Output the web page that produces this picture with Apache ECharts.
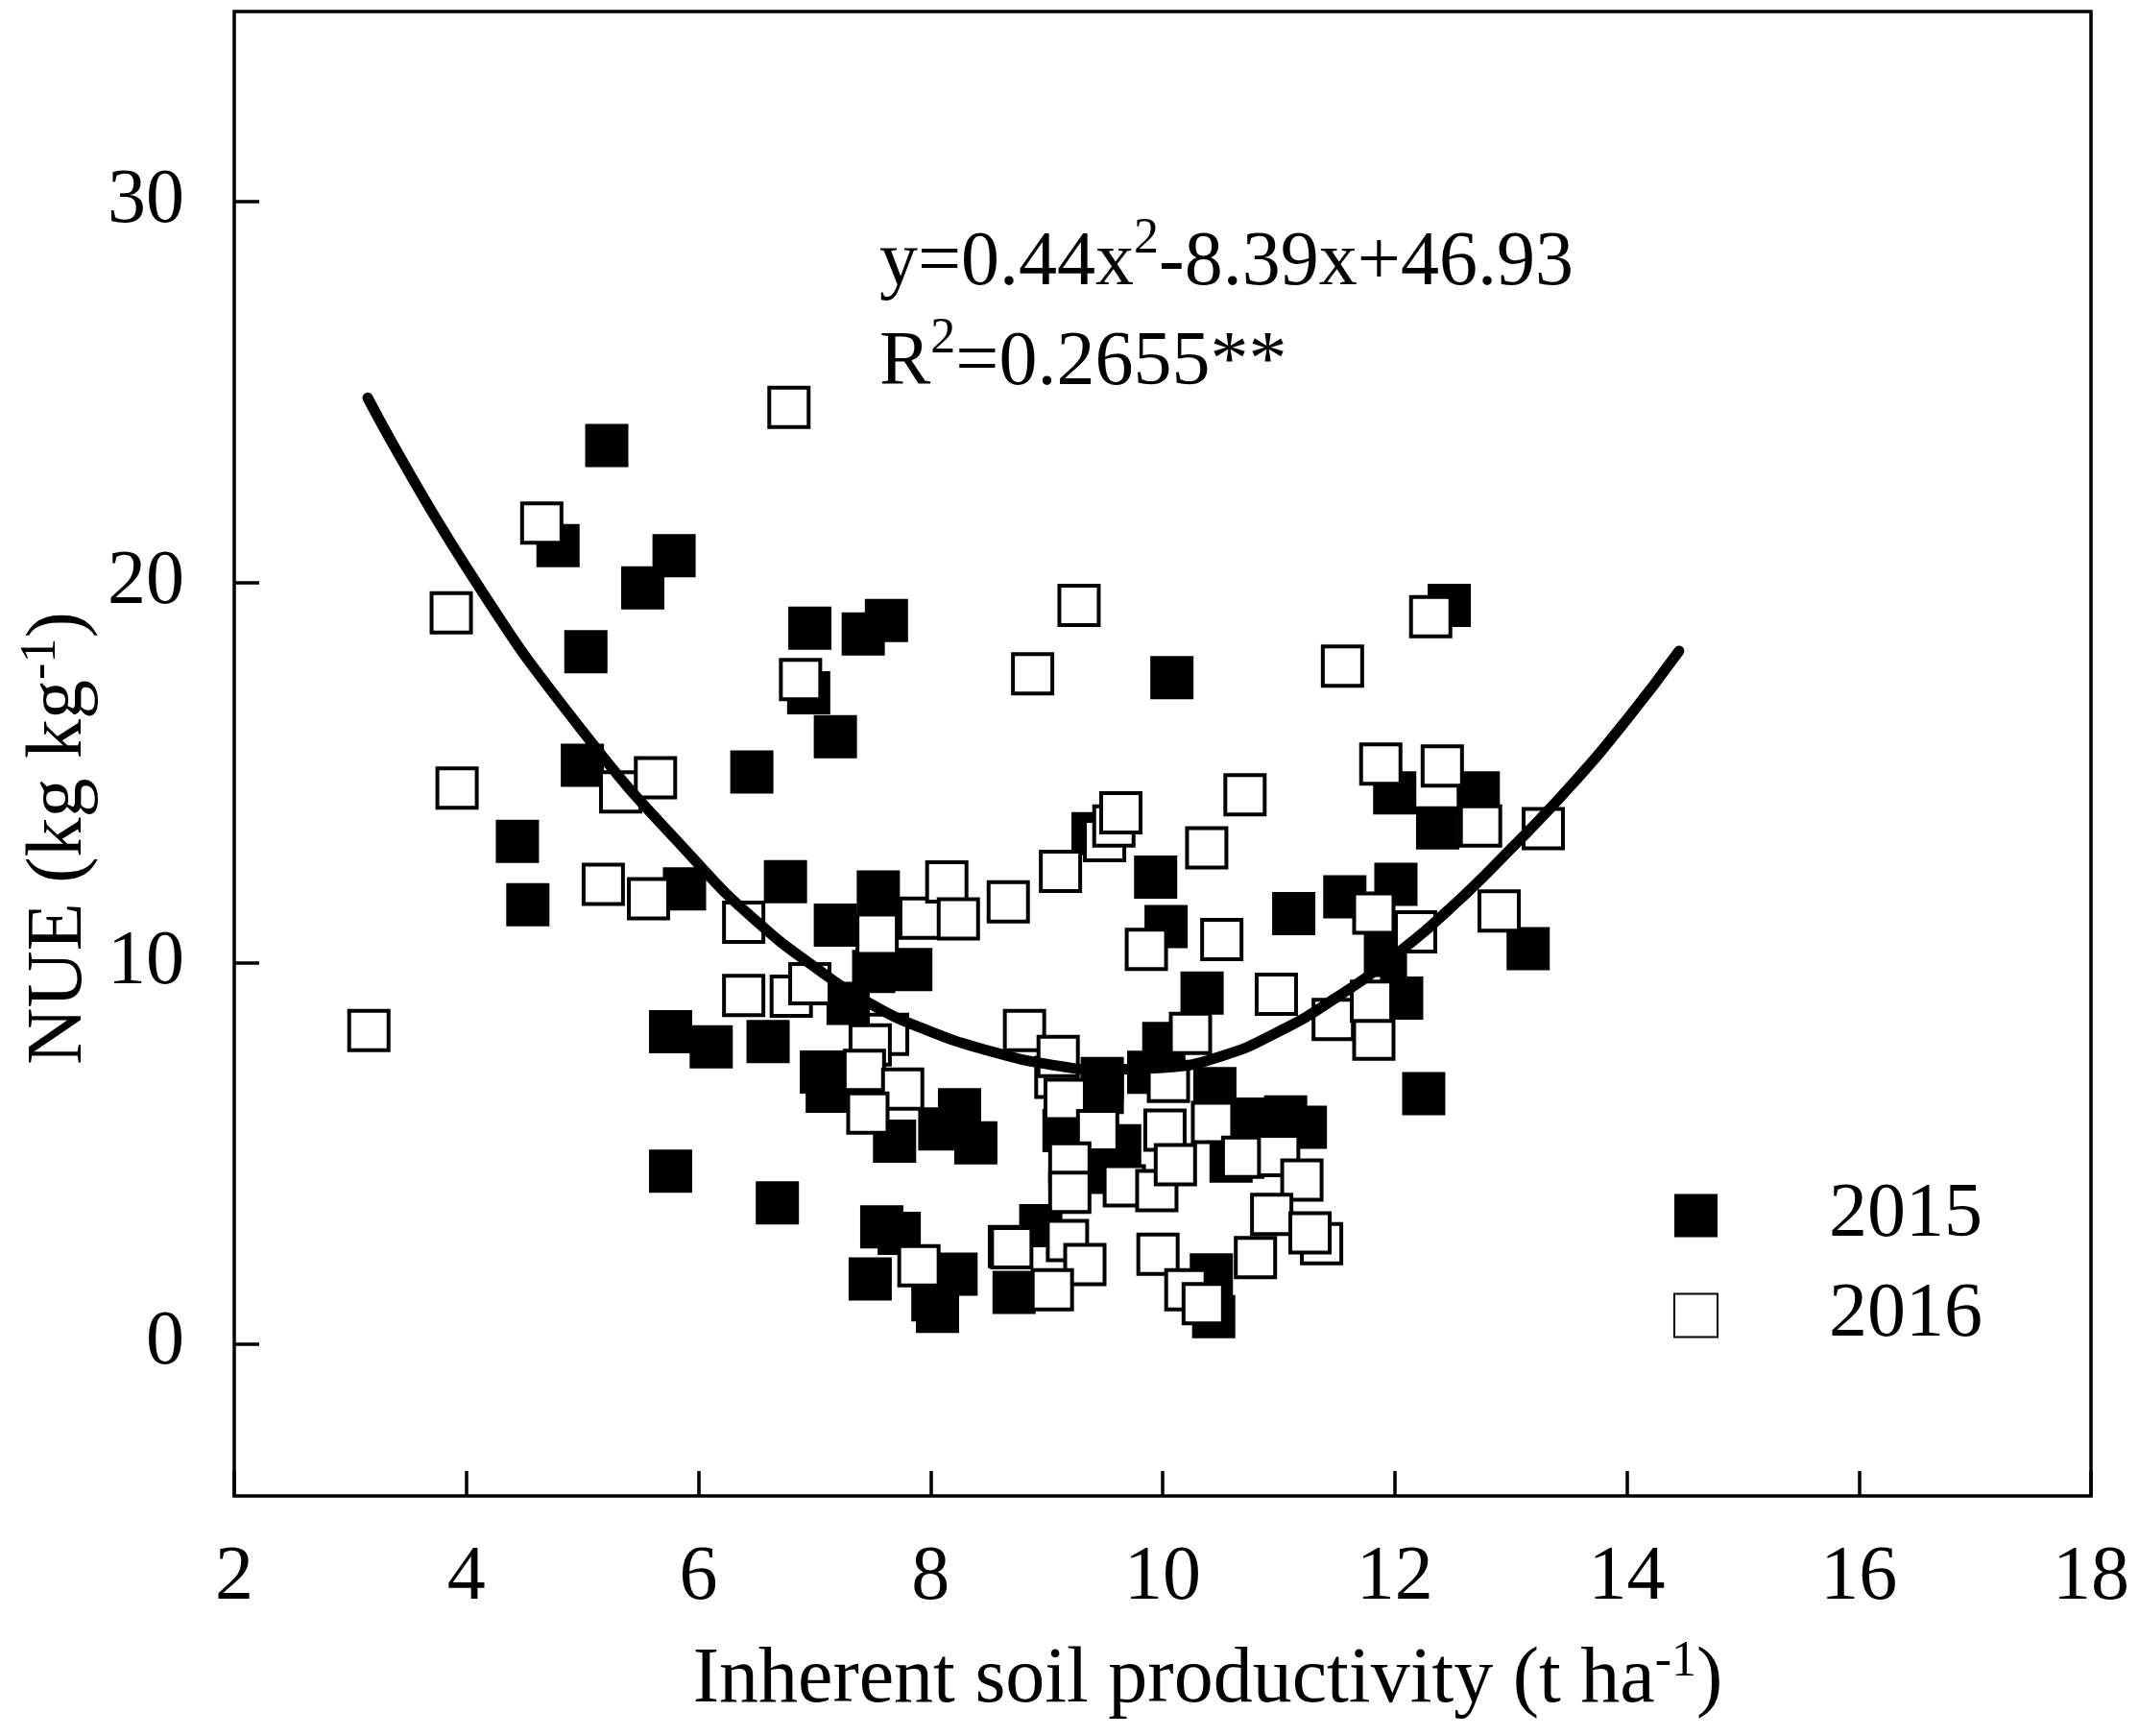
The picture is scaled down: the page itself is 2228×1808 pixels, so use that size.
<!DOCTYPE html>
<html>
<head>
<meta charset="utf-8">
<title>NUE vs inherent soil productivity</title>
<script src="https://cdn.jsdelivr.net/npm/echarts@6/dist/echarts.min.js"></script>
<style>
  html, body { margin: 0; padding: 0; background: #fff; }
  #chart { width: 2228px; height: 1808px; }
</style>
</head>
<body>
<div id="chart"></div>
<script>
// points: [inherent soil productivity, NUE]
var data2015 = [
  [5.21, 23.6], [4.79, 20.97], [5.52, 19.86], [5.79, 20.7], [5.03, 18.18],
  [5.0, 15.2], [4.44, 13.2], [4.53, 11.53], [5.88, 11.95], [5.76, 8.2],
  [6.11, 7.8], [5.76, 4.53], [6.46, 15.02], [6.75, 12.14], [6.6, 7.94],
  [6.68, 3.7], [6.96, 18.8], [6.95, 17.1], [7.18, 15.95], [7.18, 11.0],
  [7.42, 18.65], [7.62, 19.0], [7.55, 11.87], [7.51, 9.78], [7.83, 9.83],
  [7.29, 8.94], [7.06, 7.14], [7.11, 6.63], [7.69, 5.32], [8.25, 6.15],
  [8.08, 5.64], [8.39, 5.28], [7.58, 3.07], [7.73, 2.9], [7.48, 1.7],
  [8.22, 1.83], [8.06, 0.85], [8.02, 1.15], [8.72, 1.35], [8.68, 2.55],
  [8.95, 3.1], [9.4, 13.4], [9.48, 6.97], [9.48, 6.6], [9.15, 5.6],
  [9.55, 4.5], [9.63, 5.2], [9.94, 12.26], [10.03, 10.96],
  [10.08, 17.5], [10.01, 7.89], [9.88, 7.13], [10.34, 9.21], [10.45, 6.7],
  [10.76, 5.9], [11.06, 5.96], [11.23, 5.69], [10.59, 4.8], [10.42, 1.81],
  [10.44, 0.71], [11.13, 11.3], [11.57, 11.74], [12.01, 12.07], [11.92, 10.2],
  [12.06, 9.08], [12.25, 6.57], [12.0, 14.47], [12.37, 13.55], [12.72, 14.47],
  [13.15, 10.38], [12.47, 19.4]
];

var data2016 = [
  [3.16, 8.23], [3.87, 19.2], [3.92, 14.6], [4.65, 21.56], [5.18, 12.07],
  [5.33, 14.5], [5.63, 14.87], [5.57, 11.69], [6.78, 24.6], [6.88, 17.45],
  [6.39, 11.07], [6.39, 9.15], [6.8, 9.13], [6.96, 9.46], [7.54, 10.76],
  [7.91, 11.18], [8.14, 12.13], [8.24, 11.16], [8.67, 11.61], [9.12, 12.41],
  [9.5, 13.22], [9.58, 13.6], [9.64, 13.95], [9.86, 10.36], [7.63, 8.13],
  [7.48, 7.85], [7.43, 7.18], [7.76, 6.69], [7.46, 6.06], [7.9, 2.05],
  [8.81, 8.23], [9.08, 7.0], [9.1, 7.55], [9.16, 6.42], [9.44, 5.6],
  [9.2, 4.75], [9.2, 3.98], [9.67, 4.15], [8.7, 2.52], [9.18, 2.71],
  [9.33, 2.08], [9.05, 1.42], [8.88, 17.6], [9.28, 19.4], [10.71, 14.42],
  [10.38, 13.03], [10.51, 10.62], [11.82, 11.31], [12.18, 10.82], [11.82, 8.0],
  [11.47, 8.52], [11.8, 9.0], [10.98, 9.18], [10.24, 8.15], [10.05, 6.89],
  [10.43, 5.81], [10.02, 5.61], [10.69, 4.9], [11.0, 4.94], [11.2, 4.3],
  [10.94, 3.4], [11.37, 2.63], [11.27, 2.91], [10.8, 2.26], [9.96, 2.35],
  [10.2, 1.42], [10.35, 1.05], [9.95, 4.02], [10.11, 4.7], [11.88, 15.23],
  [12.41, 15.18], [12.74, 13.6], [12.9, 11.37], [13.28, 13.53], [11.55, 17.8],
  [12.31, 19.1]
];

// fitted curve
var fitLine = [
  [3.15, 24.85], [4, 20.4], [5, 16.1], [6, 12.6], [6.5, 11.1], [7, 9.9],
  [7.5, 8.9], [8, 8.2], [8.5, 7.7], [9, 7.35], [9.5, 7.2], [10, 7.25],
  [10.5, 7.55], [11, 8.2], [11.5, 9.1], [12, 10.2], [12.5, 11.5], [13, 13.0],
  [13.5, 14.6], [14, 16.4], [14.45, 18.2]
];

var yTicks = [0, 10, 20, 30];
var seriesNames = ['2015', '2016'];

var FONT = 'Liberation Serif, Times New Roman, serif';

var myChart = echarts.init(document.getElementById('chart'));
var option = {
  animation: false,
  backgroundColor: '#fff',
  textStyle: { fontFamily: FONT, color: '#000' },
  grid: {
    left: 244, right: 50, top: 12, bottom: 250,
    show: true, borderColor: '#000', borderWidth: 3.5
  },
  legend: {
    data: seriesNames,
    orient: 'vertical',
    left: 1743,
    top: 1226,
    padding: 0,
    itemWidth: 45,
    itemHeight: 45,
    itemGap: 24,
    textStyle: {
      fontFamily: FONT, fontSize: 80, lineHeight: 80, color: '#000',
      padding: [0, 0, 0, 111]
    }
  },
  xAxis: {
    type: 'value',
    min: 2, max: 18, interval: 2,
    axisLine: { show: false, onZero: false },
    axisTick: { inside: true, length: 26, lineStyle: { color: '#000', width: 3.5 } },
    axisLabel: { fontFamily: FONT, fontSize: 80, color: '#000', margin: 46 },
    splitLine: { show: false }
  },
  yAxis: {
    type: 'value',
    min: -4, max: 35,
    axisLine: { show: false, onZero: false },
    axisTick: {
      inside: true, length: 26, customValues: yTicks,
      lineStyle: { color: '#000', width: 3.5 }
    },
    axisLabel: {
      fontFamily: FONT, fontSize: 80, color: '#000', margin: 52,
      customValues: yTicks
    },
    splitLine: { show: false }
  },
  graphic: [
    {
      type: 'text',
      left: 916, top: 223,
      style: {
        text: '{a|y=0.44x}{s|2}{a|-8.39x+46.93}\n{a|R}{s|2}{a|=0.2655**}',
        rich: {
          a: { fontFamily: FONT, fontSize: 80, lineHeight: 104, fill: '#000' },
          s: { fontFamily: FONT, fontSize: 52, lineHeight: 26, verticalAlign: 'top', fill: '#000' }
        }
      }
    },
    {
      type: 'text',
      x: 1258, y: 1750,
      style: {
        text: '{a|Inherent soil productivity (t ha}{s|-1}{a|)}',
        align: 'center', verticalAlign: 'middle',
        rich: {
          a: { fontFamily: FONT, fontSize: 82, lineHeight: 90, fill: '#000' },
          s: { fontFamily: FONT, fontSize: 52, lineHeight: 30, verticalAlign: 'top', fill: '#000' }
        }
      }
    },
    {
      type: 'text',
      x: 62, y: 873,
      rotation: Math.PI / 2,
      style: {
        text: '{a|NUE (kg kg}{s|-1}{a|)}',
        align: 'center', verticalAlign: 'middle',
        rich: {
          a: { fontFamily: FONT, fontSize: 82, lineHeight: 90, fill: '#000' },
          s: { fontFamily: FONT, fontSize: 52, lineHeight: 30, verticalAlign: 'top', fill: '#000' }
        }
      }
    }
  ],
  series: [
    {
      name: '2015',
      type: 'scatter',
      symbol: 'rect',
      symbolSize: 45,
      itemStyle: { color: '#000', opacity: 1 },
      data: data2015
    },
    {
      name: '2016',
      type: 'scatter',
      symbol: 'rect',
      symbolSize: 41,
      itemStyle: { color: '#fff', borderColor: '#000', borderWidth: 4, opacity: 1 },
      data: data2016
    },
    {
      name: 'fit',
      type: 'line',
      smooth: true,
      symbol: 'none',
      z: 5,
      lineStyle: { color: '#000', width: 11, cap: 'round' },
      data: fitLine
    }
  ]
};

myChart.setOption(option);
</script>
</body>
</html>
